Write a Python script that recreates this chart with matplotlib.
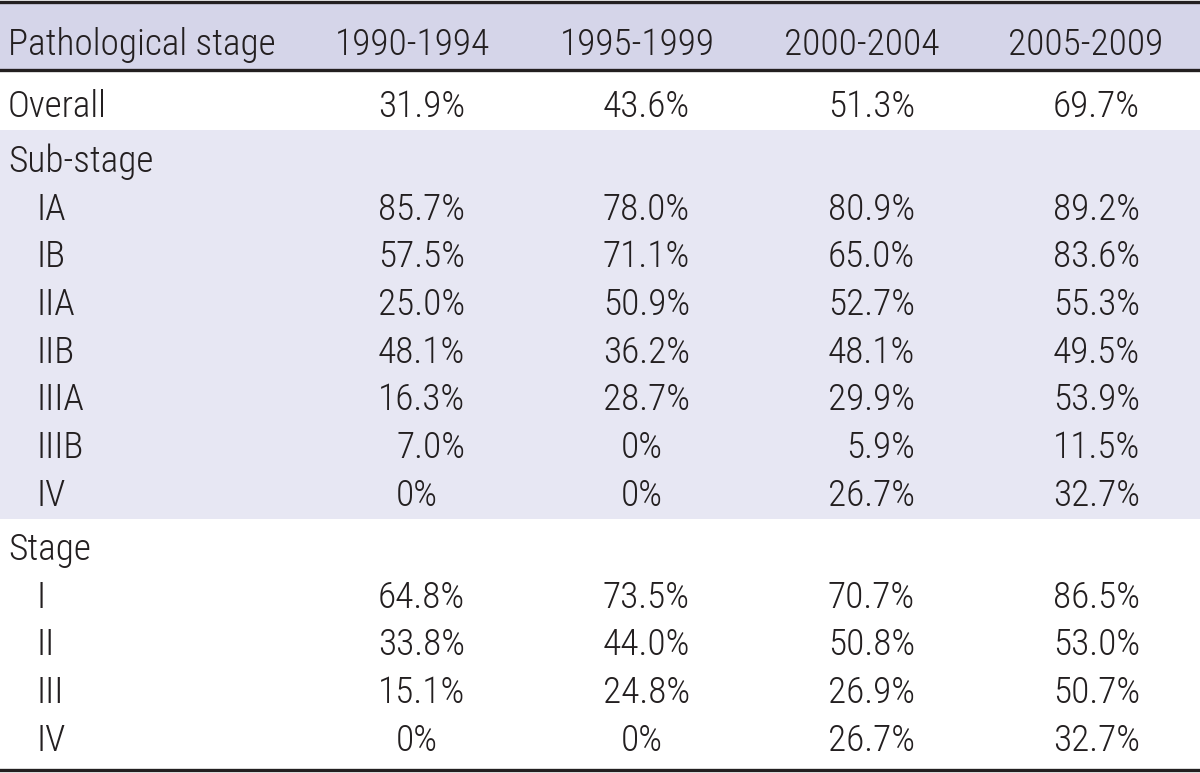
import matplotlib
matplotlib.use("Agg")
from matplotlib import pyplot as plt

plt.rcParams['font.family'] = ['Roboto Condensed', 'Liberation Sans Narrow', 'Roboto', 'DejaVu Sans']

# table content
periods = ['1990-1994', '1995-1999', '2000-2004', '2005-2009']
overall = ['31.9%', '43.6%', '51.3%', '69.7%']

sub_labels = ['IA', 'IB', 'IIA', 'IIB', 'IIIA', 'IIIB', 'IV']
sub_values = [
    ['85.7%', '78.0%', '80.9%', '89.2%'],
    ['57.5%', '71.1%', '65.0%', '83.6%'],
    ['25.0%', '50.9%', '52.7%', '55.3%'],
    ['48.1%', '36.2%', '48.1%', '49.5%'],
    ['16.3%', '28.7%', '29.9%', '53.9%'],
    ['7.0%', '0%', '5.9%', '11.5%'],
    ['0%', '0%', '26.7%', '32.7%'],
]

stage_labels = ['I', 'II', 'III', 'IV']
stage_values = [
    ['64.8%', '73.5%', '70.7%', '86.5%'],
    ['33.8%', '44.0%', '50.8%', '53.0%'],
    ['15.1%', '24.8%', '26.9%', '50.7%'],
    ['0%', '0%', '26.7%', '32.7%'],
]

# layout (pixel coords, y down)
W, H = 1200, 773
head_x = [412, 637, 862, 1086]
col_right = [465, 690, 915, 1140]
fs = 26.8
wt = 'light'
txt = '#231f20'
step = 47.7

fig = plt.figure(figsize=(W / 100, H / 100), dpi=100)
ax = fig.add_axes([0, 0, 1, 1])
ax.set_xlim(0, W)
ax.set_ylim(H, 0)
ax.axis('off')

# bands
ax.axhspan(2, 69, color='#d5d5e9', lw=0)
ax.axhspan(130, 519, color='#e7e7f3', lw=0)

# rules
for y in (1.5, 69.5, 769.5):
    ax.axhline(y, color=txt, lw=2.4)

# width of ".0" so that whole numbers line up on the units digit
renderer = fig.canvas.get_renderer()
probe = ax.text(0, 0, '0.0%', fontsize=fs, fontweight=wt)
w_full = probe.get_window_extent(renderer).width
probe.set_text('0%')
w_short = probe.get_window_extent(renderer).width
probe.remove()
dec_shift = w_full - w_short

def label(x, y, s):
    ax.text(x, y, s, fontsize=fs, color=txt, ha='left', va='baseline', fontweight=wt)

def put_row(y, name, vals, x0):
    label(x0, y, name)
    for xr, v in zip(col_right, vals):
        x = xr if '.' in v else xr - dec_shift
        ax.text(x, y, v, fontsize=fs, color=txt, ha='right', va='baseline', fontweight=wt)

label(8, 55, 'Pathological stage')
for x, p in zip(head_x, periods):
    ax.text(x, 55, p, fontsize=fs, color=txt, ha='center', va='baseline', fontweight=wt)

put_row(117, 'Overall', overall, 8)

label(8, 172, 'Sub-stage')
for i, (lab, vals) in enumerate(zip(sub_labels, sub_values)):
    put_row(172 + (i + 1) * step, lab, vals, 37)

label(8, 560, 'Stage')
for i, (lab, vals) in enumerate(zip(stage_labels, stage_values)):
    put_row(560 + (i + 1) * step, lab, vals, 37)

fig.savefig('out.png', dpi=100, facecolor='white')
